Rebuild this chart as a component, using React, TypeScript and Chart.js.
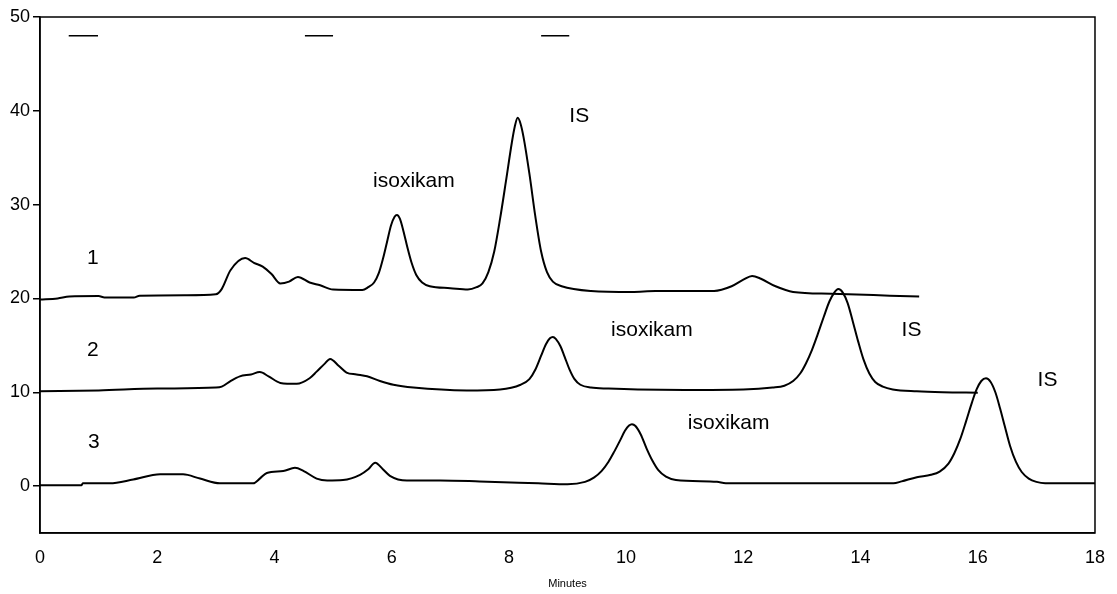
import React, { useEffect, useRef } from "react";
import { Chart, registerables } from "chart.js";

Chart.register(...registerables);

// ---- Data (retention time in minutes, detector signal) ----
const trace1Time = [0, 0.3, 0.5, 1.0, 1.1, 1.6, 1.7, 2.5, 3.0, 3.1, 3.25, 3.5, 3.65, 3.8, 3.95, 4.1, 4.25, 4.4, 4.6, 4.78, 5.0, 5.5, 5.6, 5.7, 5.78, 5.85, 5.92, 5.99, 6.05, 6.09, 6.14, 6.2, 6.27, 6.34, 6.42, 6.52, 6.65, 7.0, 7.3, 7.45, 7.55, 7.65, 7.75, 7.85, 7.95, 8.05, 8.1, 8.15, 8.2, 8.25, 8.35, 8.45, 8.55, 8.65, 8.75, 8.9, 9.4, 10.1, 10.5, 11.0, 11.5, 11.8, 12.0, 12.15, 12.3, 12.55, 12.85, 13.5, 14.5, 15.0];
const trace1Signal = [19.9, 20.0, 20.2, 20.25, 20.1, 20.1, 20.3, 20.35, 20.45, 21.0, 23.0, 24.3, 23.8, 23.4, 22.6, 21.6, 21.8, 22.3, 21.7, 21.4, 20.95, 20.9, 21.2, 21.7, 22.7, 24.2, 26.0, 27.8, 28.7, 28.9, 28.5, 27.2, 25.4, 23.8, 22.5, 21.7, 21.3, 21.1, 20.95, 21.2, 21.6, 22.8, 25.0, 28.5, 32.5, 36.6, 38.3, 39.25, 38.6, 37.2, 33.3, 28.8, 25.0, 22.8, 21.8, 21.3, 20.8, 20.7, 20.8, 20.8, 20.8, 21.3, 22.0, 22.4, 22.1, 21.3, 20.7, 20.5, 20.3, 20.2];

const trace2Time = [0, 1.0, 2.0, 3.0, 3.1, 3.25, 3.41, 3.6, 3.75, 3.9, 4.1, 4.38, 4.6, 4.72, 4.85, 4.95, 5.1, 5.23, 5.4, 5.58, 5.8, 6.03, 6.37, 7.28, 7.85, 8.2, 8.35, 8.45, 8.55, 8.63, 8.7, 8.75, 8.8, 8.88, 8.95, 9.03, 9.12, 9.22, 9.4, 9.7, 10.2, 11.0, 12.0, 12.5, 12.7, 12.85, 12.97, 13.07, 13.17, 13.27, 13.37, 13.47, 13.55, 13.62, 13.7, 13.78, 13.87, 13.96, 14.05, 14.15, 14.25, 14.38, 14.55, 14.96, 15.4, 16.0];
const trace2Signal = [10.1, 10.2, 10.4, 10.5, 10.6, 11.2, 11.7, 11.9, 12.15, 11.7, 11.0, 10.9, 11.5, 12.2, 13.0, 13.55, 12.8, 12.1, 11.9, 11.7, 11.2, 10.8, 10.5, 10.2, 10.3, 10.8, 11.4, 12.4, 13.9, 15.1, 15.75, 15.9, 15.7, 14.9, 13.8, 12.5, 11.4, 10.8, 10.5, 10.4, 10.3, 10.25, 10.3, 10.5, 10.7, 11.2, 12.0, 13.1, 14.5, 16.2, 18.0, 19.7, 20.6, 21.0, 20.6, 19.5, 17.5, 15.4, 13.5, 12.0, 11.1, 10.6, 10.3, 10.1, 10.0, 9.95];

const trace3Time = [0, 0.71, 0.73, 1.19, 1.59, 2.05, 2.44, 2.73, 3.07, 3.64, 3.75, 3.87, 4.15, 4.35, 4.5, 4.72, 4.9, 5.17, 5.46, 5.6, 5.72, 5.85, 5.97, 6.26, 6.83, 7.5, 8.5, 9.0, 9.3, 9.45, 9.58, 9.7, 9.8, 9.9, 9.98, 10.05, 10.1, 10.16, 10.25, 10.35, 10.45, 10.55, 10.68, 10.85, 11.55, 11.7, 14.56, 14.7, 14.96, 15.2, 15.35, 15.5, 15.6, 15.7, 15.8, 15.9, 15.98, 16.06, 16.14, 16.22, 16.3, 16.38, 16.46, 16.55, 16.65, 16.75, 16.87, 17.0, 17.15, 18.0];
const trace3Signal = [0.1, 0.1, 0.3, 0.3, 0.7, 1.25, 1.25, 0.8, 0.3, 0.3, 0.8, 1.4, 1.6, 1.95, 1.6, 0.8, 0.6, 0.65, 1.2, 1.8, 2.5, 1.8, 1.1, 0.6, 0.6, 0.5, 0.3, 0.2, 0.45, 0.9, 1.6, 2.6, 3.7, 4.9, 5.9, 6.45, 6.6, 6.4, 5.5, 4.0, 2.7, 1.7, 1.0, 0.65, 0.45, 0.3, 0.3, 0.5, 0.95, 1.2, 1.55, 2.4, 3.5, 5.0, 6.9, 8.9, 10.3, 11.2, 11.5, 11.1, 10.0, 8.3, 6.4, 4.3, 2.6, 1.5, 0.8, 0.45, 0.3, 0.3];

const legendMarkStart = [0.49, 4.52, 8.55];
const legendMarkEnd = [0.99, 5.0, 9.03];
const legendMarkLevel = 48.0;

const labelTexts = ["1", "2", "3", "isoxikam", "IS", "isoxikam", "IS", "isoxikam", "IS"];
const labelTime = [0.9, 0.9, 0.92, 6.38, 9.2, 10.44, 14.87, 11.75, 17.19];
const labelSignal = [24.3, 14.5, 4.7, 32.5, 39.4, 16.6, 16.6, 6.65, 11.3];

const yTickValues = [0, 10, 20, 30, 40, 50];
const xTickValues = [0, 2, 4, 6, 8, 10, 12, 14, 16, 18];
const xAxisTitle = "Minutes";

const FONT = "'Liberation Sans', Arial, Helvetica, sans-serif";

function toPoints(t: number[], v: number[]) {
  return t.map((x, i) => ({ x, y: v[i] }));
}

const frameAndLabels = {
  id: "frameAndLabels",
  afterDatasetsDraw(chart: any) {
    const { ctx, chartArea, scales } = chart;
    ctx.save();
    ctx.strokeStyle = "#000";
    ctx.lineWidth = 1.5;
    ctx.strokeRect(chartArea.left, chartArea.top, chartArea.right - chartArea.left, chartArea.bottom - chartArea.top);
    ctx.fillStyle = "#000";
    ctx.font = `21px ${FONT}`;
    ctx.textAlign = "center";
    ctx.textBaseline = "middle";
    labelTexts.forEach((txt, i) => {
      const px = scales.x.getPixelForValue(labelTime[i]);
      const py = scales.y.getPixelForValue(labelSignal[i]);
      ctx.fillText(txt, px, py);
    });
    ctx.restore();
  },
};

export default function App() {
  const canvasRef = useRef<HTMLCanvasElement | null>(null);

  useEffect(() => {
    document.body.style.margin = "0";
    const canvas = canvasRef.current;
    if (!canvas) return;

    const lineStyle = {
      borderColor: "#000",
      borderWidth: 2,
      pointRadius: 0,
      fill: false,
      cubicInterpolationMode: "monotone" as const,
    };

    const legendSets = legendMarkStart.map((s, i) => ({
      label: `mark${i}`,
      data: [
        { x: s, y: legendMarkLevel },
        { x: legendMarkEnd[i], y: legendMarkLevel },
      ],
      borderColor: "#000",
      borderWidth: 1.5,
      pointRadius: 0,
      fill: false,
    }));

    const chart = new Chart(canvas, {
      type: "line",
      data: {
        datasets: [
          { label: "1", data: toPoints(trace1Time, trace1Signal), ...lineStyle },
          { label: "2", data: toPoints(trace2Time, trace2Signal), ...lineStyle },
          { label: "3", data: toPoints(trace3Time, trace3Signal), ...lineStyle },
          ...legendSets,
        ],
      },
      options: {
        animation: false,
        responsive: false,
        maintainAspectRatio: false,
        layout: { padding: { top: 17, right: 22, left: 0, bottom: 0 } },
        plugins: {
          legend: { display: false },
          tooltip: { enabled: false },
        },
        scales: {
          x: {
            type: "linear",
            min: 0,
            max: 18,
            afterBuildTicks: (s: any) => {
              s.ticks = xTickValues.map((v) => ({ value: v }));
            },
            afterFit: (s: any) => {
              s.height = 61;
            },
            ticks: {
              color: "#000",
              font: { family: FONT, size: 18 },
              padding: 12,
              maxRotation: 0,
              autoSkip: false,
            },
            grid: {
              display: true,
              drawOnChartArea: false,
              drawTicks: true,
              tickLength: 2,
              tickColor: "rgba(0,0,0,0)",
              color: "#000",
            },
            border: { display: true, color: "#000", width: 1.5 },
            title: {
              display: true,
              text: xAxisTitle,
              color: "#000",
              font: { family: FONT, size: 11 },
              padding: { top: 0, bottom: 3 },
            },
          },
          y: {
            type: "linear",
            min: -5,
            max: 50,
            afterBuildTicks: (s: any) => {
              s.ticks = yTickValues.map((v) => ({ value: v }));
            },
            afterFit: (s: any) => {
              s.width = 40;
            },
            ticks: {
              color: "#000",
              font: { family: FONT, size: 18 },
              padding: 3,
              autoSkip: false,
            },
            grid: { display: true, drawOnChartArea: false, drawTicks: true, tickLength: 7, color: "#000", lineWidth: 1.5 },
            border: { display: true, color: "#000", width: 1.5 },
          },
        },
      },
      plugins: [frameAndLabels],
    });

    return () => chart.destroy();
  }, []);

  return (
    <div style={{ width: 1117, height: 594, background: "#fff" }}>
      <canvas ref={canvasRef} width={1117} height={594} style={{ display: "block" }} />
    </div>
  );
}
